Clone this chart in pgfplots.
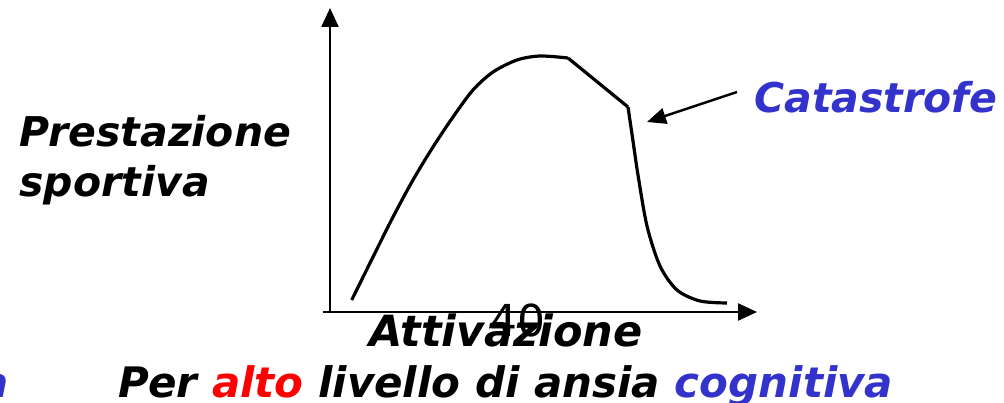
\documentclass[border=0pt]{standalone}
\usepackage{pgfplots}
\pgfplotsset{compat=1.18}
\usetikzlibrary{arrows.meta}
\usepackage{fontspec}
\setmainfont{DejaVu Sans}
\definecolor{catblue}{HTML}{3333CC}
\definecolor{altored}{HTML}{FF0000}

\begin{document}
\begin{tikzpicture}[x=1pt,y=1pt]
\begin{axis}[
  at={(330pt,91pt)}, anchor=origin,
  scale only axis, width=427pt, height=304pt,
  xmin=330, xmax=757, ymin=91, ymax=395,
  axis lines=left,
  x axis line style={line width=2.4pt, -{Triangle[length=19pt,width=17pt]}},
  y axis line style={line width=2.4pt, -{Triangle[length=19pt,width=17pt]}},
  xtick=\empty, ytick=\empty,
  clip=false,
  every node/.style={inner sep=0pt, outer sep=0pt},
]
% rising branch up to the plateau
\addplot[line width=3.2pt, smooth, tension=0.5] coordinates {
  (351.7,103) (373,146) (393,186) (413,223) (433,256) (453,286)
  (473,313) (493,331) (517,343) (540,347) (568,345)
};
% linear decline after the optimum
\addplot[line width=3.2pt] coordinates {(568,345) (628,296)};
% sudden drop (catastrophe)
\addplot[line width=3.2pt, smooth, tension=0.5] coordinates {
  (628,296) (633,262) (638,228) (647,177) (660,137) (677,113) (700,102) (727,100)
};
% short stub of the x axis left of the origin
\draw[line width=2.4pt] (axis cs:323,91) -- (axis cs:331,91);
% pointer to the catastrophe
\draw[line width=2.4pt, -{Triangle[length=19pt,width=16pt]}] (axis cs:737,311) -- (axis cs:647,281);

\node[anchor=base west, font=\fontsize{41}{48}\selectfont\bfseries\itshape] at (axis cs:16,256) {Prestazione};
\node[anchor=base west, font=\fontsize{41}{48}\selectfont\bfseries\itshape] at (axis cs:16,206) {sportiva};
\node[anchor=base west, text=catblue, font=\fontsize{41}{48}\selectfont\bfseries\itshape] at (axis cs:751,290) {Catastrofe};
\node[anchor=base west, font=\fontsize{44}{52}\selectfont] at (axis cs:486,66) {40};
\node[anchor=base west, font=\fontsize{43}{50}\selectfont\bfseries\itshape] at (axis cs:366,56) {Attivazione};
\node[anchor=base west, font=\fontsize{42}{50}\selectfont\bfseries\itshape] at (axis cs:115,5)
  {Per \textcolor{altored}{alto} livello di ansia \textcolor{catblue}{cognitiva}};
\node[anchor=base east, text=catblue, font=\fontsize{42}{50}\selectfont\bfseries\itshape] at (axis cs:12,5) {a};
\end{axis}
\pgfresetboundingbox
\path[use as bounding box] (0,0) rectangle (1004,403);
\end{tikzpicture}
\end{document}
